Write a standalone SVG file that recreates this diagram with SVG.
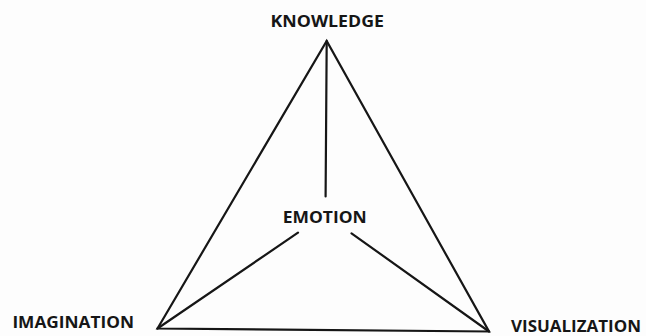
<svg xmlns="http://www.w3.org/2000/svg" width="646" height="336" viewBox="0 0 646 336">
<style>
.lbl{font-family:"Open Sans","Noto Sans","Liberation Sans",sans-serif;font-weight:700;font-size:16.5px;fill:#161616}
.ln{stroke:#161616;stroke-width:2.2;fill:none;stroke-linecap:round;stroke-linejoin:miter}
</style>
<rect width="646" height="336" fill="#fdfdfd"/>
<g id="connectors">
<path class="ln" d="M157.5,328.5 L326.7,41 L489,331.5 Z"/>
<line class="ln" x1="326.7" y1="41" x2="325.6" y2="196.5"/>
<line class="ln" x1="298" y1="232.7" x2="157.5" y2="328.5"/>
<line class="ln" x1="351.5" y1="233.3" x2="489" y2="331.5"/>
</g>
<g id="knowledge"><text class="lbl" x="270.5" y="26.7" textLength="113.5" lengthAdjust="spacingAndGlyphs">KNOWLEDGE</text></g>
<g id="emotion"><text class="lbl" x="282.8" y="223" textLength="84" lengthAdjust="spacingAndGlyphs">EMOTION</text></g>
<g id="imagination"><text class="lbl" x="12.4" y="328" textLength="121.6" lengthAdjust="spacingAndGlyphs">IMAGINATION</text></g>
<g id="visualization"><text class="lbl" x="511" y="331.5" font-size="16" textLength="130" lengthAdjust="spacingAndGlyphs">VISUALIZATION</text></g>
</svg>
